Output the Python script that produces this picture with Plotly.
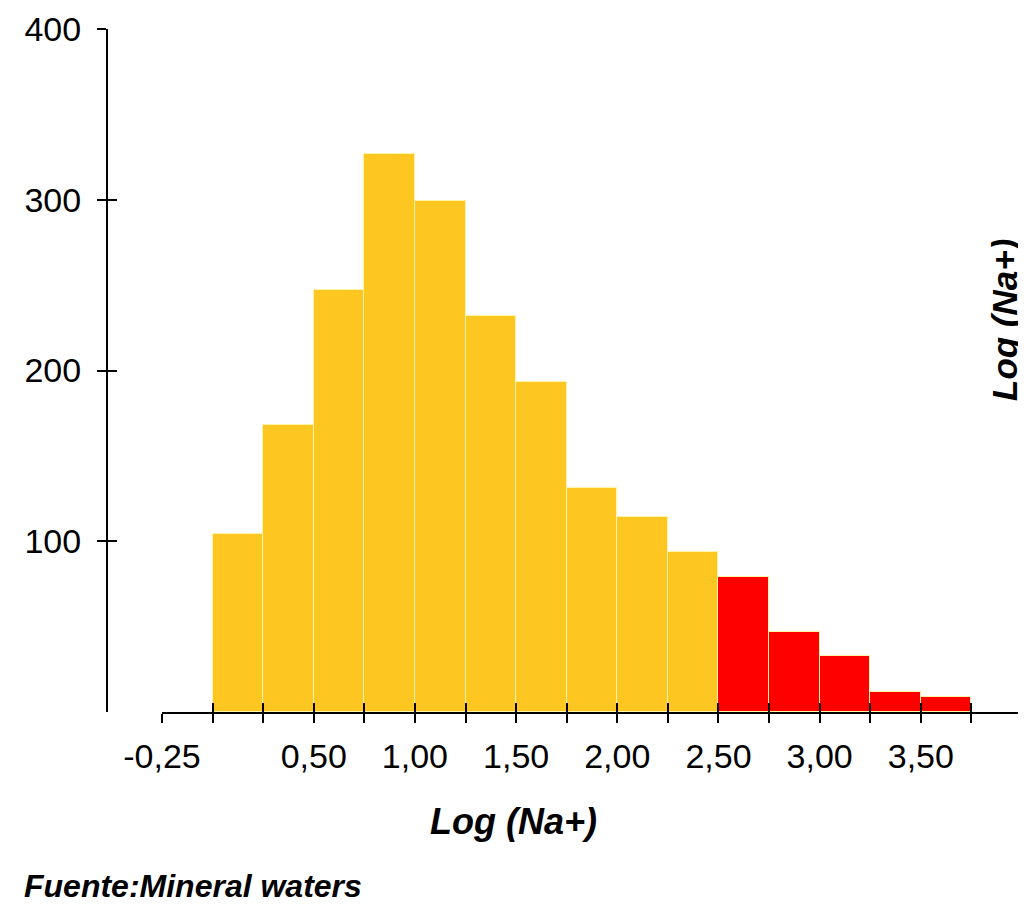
import plotly.graph_objects as go

# Histogram of Log(Na+) - bin centres and counts
bin_centers = [0.125, 0.375, 0.625, 0.875, 1.125, 1.375, 1.625, 1.875,
               2.125, 2.375, 2.625, 2.875, 3.125, 3.375, 3.625]
counts = [104, 168, 247, 327, 299, 232, 193, 131, 114, 94, 79, 47, 33, 12, 9]
n_yellow = 10  # bins below 2.50 are yellow, the rest red

x_ticks = [-0.25 + 0.25 * i for i in range(18)]
x_labels = ['-0,25', '', '', '0,50', '', '1,00', '', '1,50', '', '2,00',
            '', '2,50', '', '3,00', '', '3,50', '', '']
y_ticks = [100, 200, 300, 400]

YELLOW = '#FDC621'
RED = '#FF0000'
FONT = 'Liberation Sans, Arial, sans-serif'

# the page adds an 8px body margin: screen px = figure px + 8
OFF = 8
W, H = 1018, 897
L, R, T, B = 40, 4, 21, 193
pw = W - L - R
ph = H - T - B


def px_x(px):
    return (px - OFF - L) / pw


def px_y(py):
    return (H - B - (py - OFF)) / ph


colors = [YELLOW] * n_yellow + [RED] * (len(counts) - n_yellow)

fig = go.Figure()
fig.add_trace(go.Bar(
    x=bin_centers, y=counts, width=0.25,
    marker=dict(color=colors, line=dict(color='#FFF3A8', width=1)),
    showlegend=False,
))

axis_common = dict(showgrid=False, zeroline=False, showline=True,
                   linecolor='black', linewidth=2, tickcolor='black',
                   tickwidth=2, ticklen=9, automargin=False)

fig.update_layout(
    width=W, height=H,
    margin=dict(l=L, r=R, t=T, b=B),
    paper_bgcolor='white', plot_bgcolor='white',
    bargap=0,
    xaxis=dict(**axis_common, domain=[px_x(162), 1], range=[-0.25, 4.0],
               tickvals=x_ticks, ticktext=x_labels, ticks='outside',
               ticklabelstandoff=4,
               tickfont=dict(family=FONT, size=34, color='black')),
    xaxis2=dict(**axis_common, domain=[px_x(162), 1], range=[-0.25, 4.0],
                overlaying='x', anchor='y', tickvals=x_ticks,
                showticklabels=False, ticks='inside'),
    yaxis=dict(**axis_common, range=[0, 400], anchor='free',
               position=px_x(107), tickvals=y_ticks, ticks='outside',
               ticklabelstandoff=9,
               tickfont=dict(family=FONT, size=34, color='black')),
    yaxis2=dict(**axis_common, range=[0, 400], anchor='free',
                position=px_x(107), overlaying='y', tickvals=y_ticks,
                showticklabels=False, ticks='inside'),
    annotations=[
        dict(text='<b><i>Log (Na+)</i></b>', xref='paper', yref='paper',
             x=px_x(513), y=px_y(821), xanchor='center', yanchor='middle',
             showarrow=False,
             font=dict(family=FONT, size=36, color='black')),
        dict(text='<b><i>Log (Na+)</i></b>', xref='paper', yref='paper',
             x=px_x(1004), y=px_y(320), xanchor='center', yanchor='middle',
             showarrow=False, textangle=-90,
             font=dict(family=FONT, size=35, color='black')),
        dict(text='<b><i>Fuente:Mineral waters</i></b>', xref='paper',
             yref='paper', x=px_x(22), y=px_y(886), xanchor='left',
             yanchor='middle', showarrow=False,
             font=dict(family=FONT, size=32, color='black')),
    ],
)

# invisible trace to activate the overlay axes
fig.add_trace(go.Scatter(x=[None], y=[None], xaxis='x2', yaxis='y2',
                         showlegend=False, hoverinfo='skip'))

fig.write_html('out.html')
